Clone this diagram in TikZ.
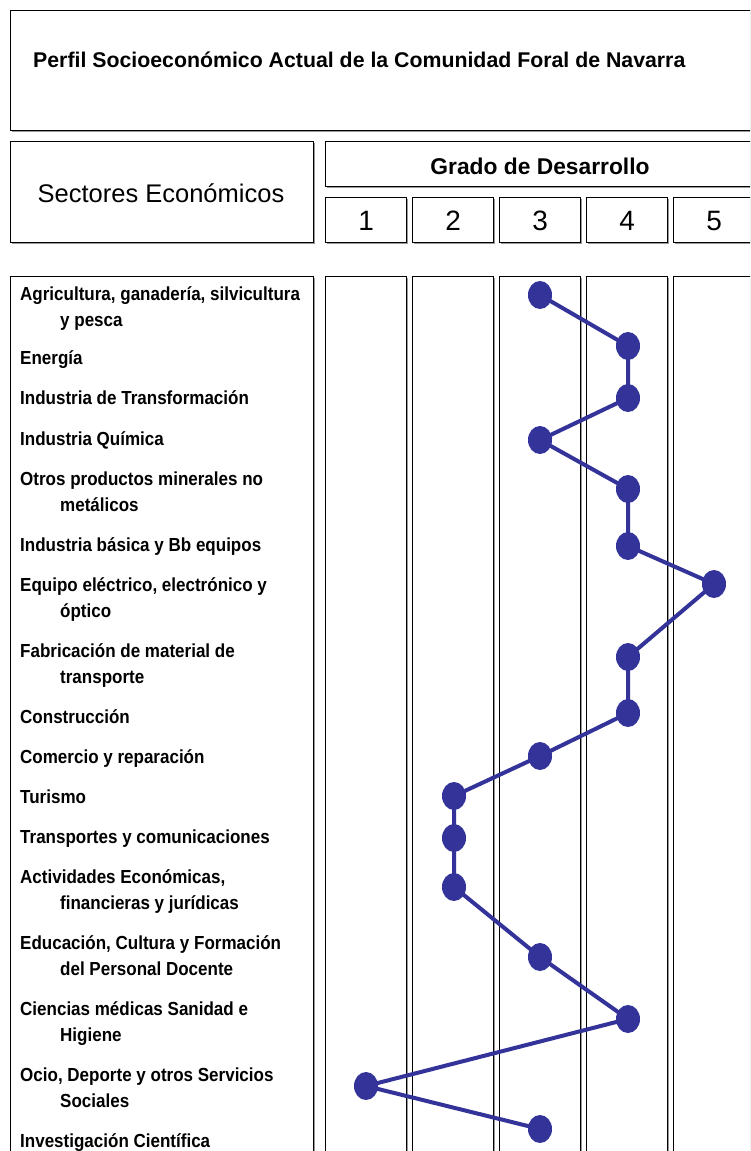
\documentclass[tikz,border=0pt]{standalone}
\usepackage{fontspec}
\setmainfont{Liberation Sans}
\newfontfamily\narrowsans[FakeStretch=0.9]{Liberation Sans}
\usetikzlibrary{shapes.geometric,shadows}
\definecolor{dotblue}{HTML}{333399}
\begin{document}
\begin{tikzpicture}[x=1pt,y=-1pt,
  frame/.style={draw=black,line width=1.2pt,fill=white,rectangle,inner sep=0pt,
    drop shadow={shadow xshift=1.4pt,shadow yshift=-1.4pt,fill=gray!80,opacity=1}},
  lbl/.style={anchor=base west,inner sep=0pt,font=\narrowsans\fontsize{18.9}{20}\selectfont\bfseries},
  dot/.style={ellipse,fill=dotblue,draw=none,minimum width=24pt,minimum height=28pt,inner sep=0pt},
  link/.style={draw=dotblue,line width=4pt}]
\useasboundingbox (0,0) rectangle (750,1151);
\clip (0,0) rectangle (750,1151);
% title box
\node[frame,minimum width=760pt,minimum height=120pt,anchor=north west] (titlebox) at (10,10) {};
\node[anchor=base west,inner sep=0pt,font=\fontsize{21.3}{23}\selectfont\bfseries] (title) at (33,67) {Perfil Socioeconómico Actual de la Comunidad Foral de Navarra};
% header
\node[frame,minimum width=303pt,minimum height=101pt,anchor=north west] (sectbox) at (10,141) {};
\node[inner sep=0pt,font=\fontsize{25.5}{28}\selectfont] (secttxt) at (161,193) {Sectores Económicos};
\node[frame,minimum width=440pt,minimum height=45pt,anchor=north west] (gradobox) at (325,141) {};
\node[inner sep=0pt,font=\fontsize{22.8}{24}\selectfont\bfseries,anchor=base] (gradotxt) at (540,174) {Grado de Desarrollo};
\foreach \i/\x in {1/325,2/412,3/499,4/586,5/673}{
  \node[frame,minimum width=81pt,minimum height=45pt,anchor=north west] (num\i) at (\x,197) {};
  \node[inner sep=0pt,font=\fontsize{28}{30}\selectfont,anchor=base] at ([yshift=-10pt]num\i.center) {\i};
  \node[frame,minimum width=81pt,minimum height=900pt,anchor=north west] (col\i) at (\x,276) {};
}
\node[frame,minimum width=303pt,minimum height=900pt,anchor=north west] (labelbox) at (10,276) {};
% labels
\node[lbl] (l1a) at (20,300.5) {Agricultura, ganadería, silvicultura};
\node[lbl] (l1b) at (60,326.5) {y pesca};
\node[lbl] (l2) at (20,364.5) {Energía};
\node[lbl] (l3) at (20,404.5) {Industria de Transformación};
\node[lbl] (l4) at (20,445.5) {Industria Química};
\node[lbl] (l5a) at (20,485.5) {Otros productos minerales no};
\node[lbl] (l5b) at (60,511.5) {metálicos};
\node[lbl] (l6) at (20,551.5) {Industria básica y Bb equipos};
\node[lbl] (l7a) at (20,591.5) {Equipo eléctrico, electrónico y};
\node[lbl] (l7b) at (60,617.5) {óptico};
\node[lbl] (l8a) at (20,657.5) {Fabricación de material de};
\node[lbl] (l8b) at (60,683.5) {transporte};
\node[lbl] (l9) at (20,723.5) {Construcción};
\node[lbl] (l10) at (20,763.5) {Comercio y reparación};
\node[lbl] (l11) at (20,803.5) {Turismo};
\node[lbl] (l12) at (20,843.5) {Transportes y comunicaciones};
\node[lbl] (l13a) at (20,883.5) {Actividades Económicas,};
\node[lbl] (l13b) at (60,909.5) {financieras y jurídicas};
\node[lbl] (l14a) at (20,949.5) {Educación, Cultura y Formación};
\node[lbl] (l14b) at (60,975.5) {del Personal Docente};
\node[lbl] (l15a) at (20,1015.5) {Ciencias médicas Sanidad e};
\node[lbl] (l15b) at (60,1041.5) {Higiene};
\node[lbl] (l16a) at (20,1081.5) {Ocio, Deporte y otros Servicios};
\node[lbl] (l16b) at (60,1107.5) {Sociales};
\node[lbl] (l17) at (20,1147.5) {Investigación Científica};
% dots
\node[dot] (d1) at (540,295) {};
\node[dot] (d2) at (628,346) {};
\node[dot] (d3) at (628,398) {};
\node[dot] (d4) at (540,440) {};
\node[dot] (d5) at (628,489) {};
\node[dot] (d6) at (628,546) {};
\node[dot] (d7) at (714,584) {};
\node[dot] (d8) at (628,657) {};
\node[dot] (d9) at (628,713) {};
\node[dot] (d10) at (540,756) {};
\node[dot] (d11) at (454,796) {};
\node[dot] (d12) at (454,838) {};
\node[dot] (d13) at (454,887) {};
\node[dot] (d14) at (540,957) {};
\node[dot] (d15) at (628,1019) {};
\node[dot] (d16) at (366,1086) {};
\node[dot] (d17) at (540,1129) {};
\draw[link] (d1.center) -- (d2.center) -- (d3.center) -- (d4.center) -- (d5.center) -- (d6.center) -- (d7.center) -- (d8.center) -- (d9.center) -- (d10.center) -- (d11.center) -- (d12.center) -- (d13.center) -- (d14.center) -- (d15.center) -- (d16.center) -- (d17.center);
\end{tikzpicture}
\end{document}
